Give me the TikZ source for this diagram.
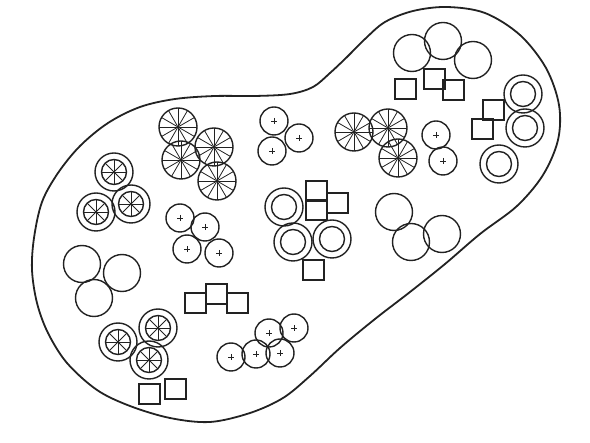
\documentclass[tikz,border=0pt]{standalone}
\usepackage{tikz}
\usetikzlibrary{calc}
\definecolor{inkgray}{HTML}{222222}

\begin{document}
\begin{tikzpicture}[
    x=1pt, y=-1pt,
    bed/.style={draw=inkgray, line width=1.8pt},
    plant/.style={draw=inkgray, line width=1.4pt},
    spoke/.style={draw=inkgray, line width=0.8pt},
    wheel/.pic={
      \draw[plant] (0,0) circle[radius=19];
      \foreach \a in {0,30,...,150} \draw[spoke] (\a:-19) -- (\a:19);
    },
    ringwheel/.pic={
      \draw[plant] (0,0) circle[radius=19];
      \draw[plant] (0,0) circle[radius=12.5];
      \foreach \a in {0,45,90,135} \draw[spoke] (\a:-12.5) -- (\a:12.5);
    },
    ring/.pic={
      \draw[plant] (0,0) circle[radius=19];
      \draw[plant] (0,0) circle[radius=12.5];
    },
    dotted/.pic={
      \draw[plant] (0,0) circle[radius=14];
      \draw[spoke] (-3,0) -- (3,0) (0,-3) -- (0,3);
    },
    plain/.pic={
      \draw[plant] (0,0) circle[radius=18.5];
    },
  ]
  \useasboundingbox (0,0) rectangle (590,443);

  % Bed outline
  \draw[bed] plot[smooth cycle, tension=0.55] coordinates {
    (32,270) (34,238) (42,202) (58,173) (80,146) (108,123) (140,107)
    (175,99) (215,96) (255,96) (290,94) (313,87) (330,73) (347,57)
    (365,39) (385,22) (413,11) (447,7) (485,13) (520,35) (546,68)
    (559,105) (558,140) (543,175) (517,206) (480,234) (445,264)
    (410,292) (375,319) (340,348) (310,376) (283,398) (250,413)
    (210,422) (170,418) (130,406) (97,390) (67,363) (48,333) (37,303)};

  % Ringed wheels
  \foreach \p in {(114,172),(96,212),(131,204),(118,342),(158,328),(149,360)}
    \pic at \p {ringwheel};

  % Spoked wheels
  \foreach \p in {(178,127),(181,160),(214,147),(217,181),(354,132),(388,128),(398,158)}
    \pic at \p {wheel};

  % Dotted shrubs
  \foreach \p in {(274,121),(299,138),(272,151),
                  (180,218),(205,227),(187,249),(219,253),
                  (231,357),(256,354),(269,333),(280,353),(294,328),
                  (436,135),(443,161)}
    \pic at \p {dotted};

  % Plain circles
  \foreach \p in {(82,264),(122,273),(94,298),
                  (394,212),(411,242),(442,234),
                  (412,53),(443,41),(473,60)}
    \pic at \p {plain};

  % Rings
  \foreach \p in {(284,207),(293,242),(332,239),(523,94),(525,128),(499,164)}
    \pic at \p {ring};

  % Squares
  \foreach \p in {(185,293),(206,284),(227,293),(139,384),(165,379),
                  (306,181),(306,200),(327,193),(303,260),
                  (395,79),(424,69),(443,80),(483,100),(472,119)}
    \draw[plant] \p rectangle ++(21,20);
\end{tikzpicture}
\end{document}
